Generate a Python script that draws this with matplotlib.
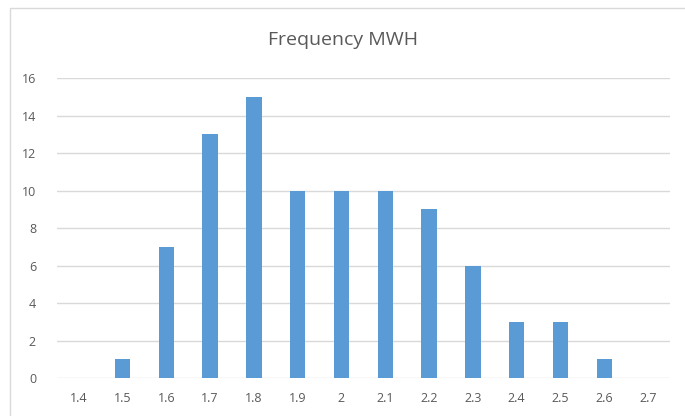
import matplotlib
matplotlib.use("Agg")
import matplotlib.pyplot as plt
from matplotlib.patches import Rectangle

# histogram buckets and counts
categories = ["1.4", "1.5", "1.6", "1.7", "1.8", "1.9", "2", "2.1",
              "2.2", "2.3", "2.4", "2.5", "2.6", "2.7"]
counts = [0, 1, 7, 13, 15, 10, 10, 10, 9, 6, 3, 3, 1, 0]
yticks = [0, 2, 4, 6, 8, 10, 12, 14, 16]

plt.rcParams['font.family'] = ['Open Sans', 'DejaVu Sans']

fig = plt.figure(figsize=(6.85, 4.16), dpi=100)
# chart frame, runs off the right and bottom edges
fig.patches.append(Rectangle((10 / 685, -0.1), 1.1, 1 - 8 / 416 + 0.1,
                             transform=fig.transFigure, fill=False,
                             edgecolor="#d9d9d9", linewidth=1))

ax = fig.add_axes([0.083, 0.0913, 0.895, 0.7212])
x = range(len(categories))
ax.bar(x, counts, width=0.35, color="#5b9bd5", zorder=3)

ax.set_xlim(-0.5, len(categories) - 0.5)
ax.set_ylim(0, 16)
ax.set_yticks(yticks)
ax.set_xticks(list(x))
ax.set_xticklabels(categories)
ax.grid(axis="y", color="#d9d9d9", linewidth=1, zorder=0)
for s in ax.spines.values():
    s.set_visible(False)
ax.tick_params(length=0, labelsize=9, labelcolor="#595959")
ax.tick_params(axis="x", pad=10)
ax.tick_params(axis="y", pad=15)

fig.text(0.5, 0.905, "Frequency MWH", ha="center", va="center",
         fontsize=14, color="#595959")

fig.savefig("out.png", dpi=100)
